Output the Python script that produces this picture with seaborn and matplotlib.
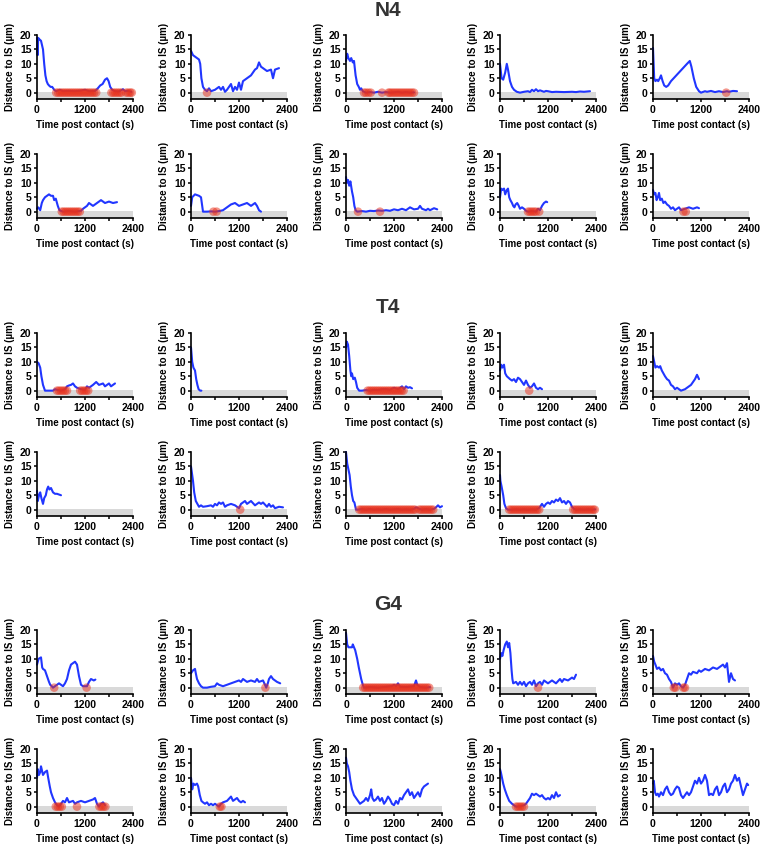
import matplotlib
matplotlib.use("Agg")
import matplotlib.pyplot as plt
import seaborn as sns
import pandas as pd

# ---------------- data ----------------
groups = ["N4", "T4", "G4"]
x_ticks = [0, 1200, 2400]
y_ticks = [0, 5, 10, 15, 20]
x_label = "Time post contact (s)"
y_label = "Distance to IS (µm)"

# N4
N4_1_t = [0, 15, 30, 60, 100, 150, 180, 210, 240, 270, 300, 340, 380, 430, 480, 570, 650, 800, 950, 1100, 1200, 1300, 1450, 1520, 1580, 1640, 1700, 1750, 1790, 1830, 1880, 1950, 2050, 2150, 2200, 2280, 2360]
N4_1_d = [19, 13, 19, 18.5, 18, 15, 10, 6, 4, 3, 2.5, 2, 2, 1, 0.5, 1, 0.5, 0.6, 0.5, 0.7, 1, 0.5, 0.6, 1.5, 2.5, 3, 4.5, 5, 4, 2, 1, 0.5, 0.4, 1.2, 0.5, 0.6, 0.3]
N4_1_red = [480, 530, 580, 630, 680, 730, 780, 830, 880, 930, 980, 1030, 1080, 1130, 1180, 1230, 1280, 1330, 1380, 1430, 1480, 1860, 1910, 1960, 2010, 2060, 2110, 2230, 2280, 2330, 2370]

N4_2_t = [0, 50, 100, 150, 200, 230, 260, 300, 350, 400, 450, 500, 600, 700, 750, 800, 850, 900, 950, 1000, 1050, 1100, 1150, 1200, 1250, 1300, 1400, 1500, 1550, 1600, 1650, 1700, 1750, 1800, 1900, 2000, 2050, 2100, 2200]
N4_2_d = [14.5, 13, 12.5, 12, 11.5, 10, 5, 2, 1, 0.5, 1.5, 0.5, 1, 2, 1, 2, 0.3, 1, 2, 3, 0.5, 2, 1, 3.5, 1, 4, 5, 6, 7, 8, 8.5, 10.5, 9, 8.5, 7.5, 8, 5, 8, 8.5]
N4_2_red = [400]

N4_3_t = [0, 30, 60, 100, 130, 170, 200, 240, 280, 320, 350, 380, 420, 500, 600, 700, 800, 900, 1000, 1100, 1200, 1300, 1400, 1500, 1600, 1700]
N4_3_d = [11, 13.5, 12, 11, 12, 10.5, 11, 6, 3, 2, 1, 1.5, 0.5, 0, 0.2, 0, 0.3, 0, 0.2, 0, 0.1, 0.3, 0, 0.2, 0, 0.1]
N4_3_red = [450, 500, 560, 620, 900, 1060, 1100, 1150, 1200, 1250, 1300, 1350, 1400, 1450, 1500, 1550, 1600, 1650, 1700]

N4_4_t = [0, 40, 80, 130, 170, 200, 250, 300, 350, 420, 500, 600, 700, 750, 800, 850, 900, 950, 1000, 1100, 1150, 1200, 1300, 1400, 1600, 1800, 1900, 2000, 2100, 2250]
N4_4_d = [10, 5, 4.5, 7, 10, 8, 4, 2, 1, 0.3, 0, 0.3, 0.5, 0.2, 1, 0.5, 1.2, 0.5, 0.8, 0.3, 0.6, 0.5, 0.2, 0.3, 0.2, 0.3, 0.2, 0.4, 0.3, 0.5]
N4_4_red = []

N4_5_t = [0, 30, 60, 100, 130, 170, 200, 240, 280, 330, 380, 450, 550, 650, 750, 850, 920, 960, 1020, 1080, 1150, 1200, 1300, 1350, 1450, 1550, 1650, 1750, 1850, 1900, 2000, 2100]
N4_5_d = [15.5, 5, 4, 4.5, 4, 5, 6, 4, 2.5, 2, 2.5, 4, 5.5, 7, 8.5, 10, 11, 9, 5, 2, 0.5, 0, 0.5, 0.3, 0.6, 0.2, 0.5, 0.2, 0.5, 0.3, 0.6, 0.5]
N4_5_red = [1830]

N4_6_t = [0, 30, 80, 120, 150, 200, 250, 300, 350, 400, 430, 470, 520, 560, 650, 800, 950, 1100, 1150, 1200, 1250, 1300, 1400, 1500, 1600, 1700, 1800, 1900, 2000]
N4_6_d = [1, 1.5, 0.5, 3, 4, 5, 5.5, 6, 5.5, 5.5, 4, 4.5, 2, 0.5, 0, 0.2, 0, 0.3, 1, 1.5, 2, 3, 2, 3, 4, 3, 3.5, 3, 3.3]
N4_6_red = [620, 670, 720, 770, 820, 870, 920, 970, 1020, 1070]

N4_7_t = [0, 30, 100, 200, 250, 280, 300, 400, 500, 600, 700, 800, 850, 950, 1000, 1100, 1200, 1300, 1400, 1500, 1550, 1600, 1650, 1700, 1750]
N4_7_d = [2, 5, 6, 5.5, 5, 2, 0, 0, 0.1, 0, 0.2, 0.5, 1, 2, 2.5, 3, 2, 2.5, 3, 2, 2.5, 3, 2, 0.5, 0]
N4_7_red = [560, 640]

N4_8_t = [0, 20, 50, 80, 110, 150, 180, 210, 240, 280, 400, 500, 600, 700, 800, 900, 1000, 1100, 1200, 1300, 1400, 1500, 1600, 1700, 1800, 1850, 1900, 2000, 2050, 2100, 2200, 2280]
N4_8_d = [12, 10, 11, 9, 10.5, 7, 5, 2, 0.5, 0, 0.2, 0, 0.3, 0.2, 0.4, 0.3, 0.5, 0.3, 0.8, 0.5, 1, 0.5, 1.5, 0.8, 1, 2, 1, 0.5, 1, 0.5, 1.2, 0.8]
N4_8_red = [300, 850]

N4_9_t = [0, 30, 60, 100, 130, 170, 200, 230, 260, 300, 330, 360, 390, 430, 470, 500, 550, 600, 650, 700, 800, 900, 950, 1000, 1050, 1100, 1150, 1180]
N4_9_d = [5, 8, 7.5, 8, 6, 7.5, 8, 5, 4, 3, 2, 1.5, 2.5, 3, 2, 1, 1.5, 1, 0.3, 0, 0.2, 0, 1, 0.5, 2, 3, 3.5, 3.3]
N4_9_red = [700, 750, 800, 850, 900, 980]

N4_10_t = [0, 30, 60, 90, 120, 150, 180, 220, 260, 300, 350, 400, 450, 500, 550, 600, 650, 700, 800, 900, 1000, 1100, 1150]
N4_10_d = [7.5, 6, 6.5, 4, 5, 6.5, 4, 4.5, 3, 3.5, 2.5, 2, 1, 1.5, 0.5, 1, 1.5, 0.5, 1, 1.5, 1, 1.5, 1.2]
N4_10_red = [760, 820]

# T4
T4_1_t = [0, 40, 80, 110, 150, 200, 300, 400, 450, 500, 600, 700, 750, 800, 850, 900, 950, 1000, 1100, 1200, 1250, 1300, 1400, 1480, 1550, 1650, 1700, 1800, 1850, 1950]
T4_1_d = [10, 9.5, 8, 5, 2, 0, 0, 0, 0.5, 0.3, 0, 0.5, 1.5, 1.8, 2, 2.5, 1.5, 1, 0.5, 0.3, 1.5, 1, 2, 3, 2, 2.5, 1.5, 2.5, 1.5, 2.5]
T4_1_red = [500, 550, 600, 650, 700, 750, 1080, 1130, 1180, 1230, 1280]

T4_2_t = [0, 30, 60, 100, 130, 160, 190, 230, 260]
T4_2_d = [15, 10, 8, 7, 4, 2, 0.5, 0, 0]
T4_2_red = []

T4_3_t = [0, 20, 50, 80, 110, 130, 150, 180, 220, 250, 280, 330, 400, 500, 600, 700, 800, 900, 1000, 1100, 1200, 1300, 1400, 1450, 1500, 1550, 1600, 1650]
T4_3_d = [15, 17, 16, 12, 7, 5, 6, 4, 4.5, 3, 1, 0, 0, 0.2, 0, 0.3, 0.2, 0.5, 0.5, 0.3, 1, 0.5, 1.5, 0.5, 1.5, 1, 1.2, 0.8]
T4_3_red = [540, 590, 640, 690, 740, 790, 840, 890, 940, 990, 1040, 1090, 1140, 1190, 1240, 1290, 1340, 1390, 1440]

T4_4_t = [0, 30, 60, 100, 130, 170, 250, 300, 350, 400, 450, 500, 550, 600, 650, 700, 750, 800, 850, 900, 950, 1000, 1050]
T4_4_d = [7, 9, 8, 9, 6, 5, 4, 3.5, 4, 3, 4.5, 4, 3, 2, 3.5, 2, 1, 1.5, 2.5, 1, 0.5, 1, 0.5]
T4_4_red = [730]

T4_5_t = [0, 30, 60, 100, 150, 180, 220, 260, 300, 350, 400, 450, 500, 550, 600, 650, 700, 800, 850, 900, 950, 1000, 1050, 1100, 1150]
T4_5_d = [12, 10, 8, 8.5, 8, 8.5, 7, 6, 5, 4, 3.5, 2, 1.5, 0.5, 1, 0.5, 0, 0.5, 1, 1.5, 2, 3, 4, 5.5, 4]
T4_5_red = []

T4_6_t = [0, 20, 50, 80, 110, 150, 180, 220, 250, 280, 310, 350, 400, 450, 500, 600]
T4_6_d = [6.5, 3, 5, 6, 4, 2, 4, 5, 7, 8, 7, 7.5, 6, 5.5, 5.5, 5]
T4_6_red = []

T4_7_t = [0, 20, 50, 80, 120, 160, 200, 250, 300, 400, 500, 550, 600, 650, 700, 750, 800, 850, 900, 1000, 1100, 1200, 1250, 1300, 1350, 1400, 1450, 1500, 1600, 1700, 1750, 1800, 1900, 1950, 2000, 2050, 2100, 2200, 2300]
T4_7_d = [15, 13, 10, 6, 3, 2, 1, 1.5, 1, 1.2, 1.5, 1, 2, 1.5, 2.5, 2, 2.5, 1, 1.5, 2, 1.5, 0.5, 2, 2.5, 3, 2, 2.5, 3, 1.5, 2.5, 2, 2.5, 1, 2, 1, 1.5, 0.5, 1, 0.8]
T4_7_red = [1230]

T4_8_t = [0, 30, 60, 90, 120, 150, 180, 210, 250, 300, 400, 500, 600, 700, 800, 900, 1000, 1100, 1200, 1300, 1400, 1500, 1600, 1700, 1750, 1800, 1850, 1900, 2000, 2100, 2200, 2250, 2300, 2350, 2400]
T4_8_d = [20, 16, 14, 12, 8, 5, 3, 2.5, 0, 0, 0.2, 0, 0.2, 0, 0.1, 0, 0.2, 0, 0.1, 0.2, 0, 0.1, 0, 0.3, 0.8, 0.5, 0.2, 0, 0.2, 0, 0.3, 0.8, 1.5, 0.8, 1.2]
T4_8_red = [330, 380, 430, 480, 530, 580, 630, 680, 730, 780, 830, 880, 930, 980, 1030, 1080, 1130, 1180, 1230, 1280, 1330, 1380, 1430, 1480, 1530, 1580, 1630, 1680, 1730, 1830, 1880, 1930, 1980, 2030, 2080, 2130, 2180]

T4_9_t = [0, 10, 40, 80, 110, 150, 200, 300, 400, 500, 600, 700, 800, 900, 970, 1000, 1050, 1100, 1150, 1200, 1250, 1300, 1350, 1400, 1450, 1500, 1550, 1600, 1650, 1700, 1750, 1800, 1850, 1900, 2000, 2100, 2200, 2300, 2380]
T4_9_d = [12, 10, 8, 5, 2, 0.5, 0, 0, 0.1, 0, 0.1, 0, 0.1, 0, 0.5, 1, 2, 1, 2, 2.5, 2, 3, 2.5, 3.5, 3, 4, 2.5, 3, 2, 3, 2.5, 1, 0.3, 0, 0.1, 0, 0.1, 0, 0.1]
T4_9_red = [230, 280, 330, 380, 430, 480, 530, 580, 630, 680, 730, 780, 830, 880, 930, 980, 1830, 1880, 1930, 1980, 2030, 2080, 2130, 2180, 2230, 2280, 2330, 2370]

# G4
G4_1_t = [0, 20, 40, 100, 130, 150, 200, 250, 300, 330, 370, 400, 450, 500, 550, 600, 650, 700, 750, 800, 850, 950, 1000, 1050, 1100, 1150, 1250, 1300, 1350, 1420, 1460]
G4_1_d = [8, 9, 10, 10.5, 7, 6.5, 6, 4, 2, 1, 0.5, 0, 0.5, 1, 1.5, 1, 0.5, 1.5, 3, 6, 8, 9, 8, 4, 1, 0.5, 0.5, 2, 3, 2.5, 2.8]
G4_1_red = [430, 1240]

G4_2_t = [0, 50, 100, 120, 150, 200, 250, 300, 400, 500, 600, 650, 700, 800, 900, 1000, 1100, 1200, 1250, 1300, 1400, 1500, 1600, 1650, 1700, 1800, 1850, 1880, 1920, 1950, 2000, 2050, 2100, 2150, 2230]
G4_2_d = [5, 6, 6.5, 5, 3, 1.5, 0.5, 0, 0, 0.3, 0.5, 1.5, 1, 0.5, 1, 1.5, 2, 2.5, 2, 3, 2, 2.5, 2, 3, 2, 2.5, 1, 0, 1.5, 3, 4, 3, 2.5, 2, 1.5]
G4_2_red = [1860]

G4_3_t = [0, 30, 60, 150, 170, 200, 230, 280, 320, 350, 380, 420, 450, 600, 800, 1000, 1150, 1200, 1250, 1300, 1350, 1500, 1700, 1750, 1780, 1850, 2000, 2100]
G4_3_d = [19, 15, 14, 14, 15, 14, 13, 10, 7, 5, 3, 1, 0, 0.2, 0, 0.3, 0.5, 1, 0.5, 1.5, 0.3, 0.2, 0.5, 2.5, 1, 0.2, 0, 0.2]
G4_3_red = [430, 480, 530, 580, 630, 680, 730, 780, 830, 880, 930, 980, 1030, 1080, 1130, 1180, 1230, 1280, 1330, 1380, 1430, 1480, 1530, 1580, 1630, 1680, 1730, 1780, 1830, 1880, 1930, 1980, 2030, 2080]

G4_4_t = [0, 30, 60, 90, 130, 170, 200, 230, 260, 290, 310, 330, 400, 450, 500, 550, 600, 650, 700, 750, 800, 850, 900, 950, 1000, 1050, 1100, 1200, 1300, 1400, 1500, 1550, 1600, 1700, 1800, 1850, 1900]
G4_4_d = [10, 12, 11, 13, 15, 16, 14, 15.5, 12, 6, 3, 1.5, 2, 1, 2, 1, 2, 0.5, 1.5, 2, 1, 2.5, 0.5, 1.5, 2, 1, 2.5, 1.5, 2.5, 1.5, 3, 2, 3, 2.5, 3.5, 3, 4.5]
G4_4_red = [950]

G4_5_t = [0, 30, 60, 100, 150, 200, 250, 300, 350, 400, 450, 500, 550, 600, 650, 700, 750, 800, 850, 900, 950, 1000, 1100, 1150, 1200, 1300, 1400, 1500, 1600, 1700, 1750, 1800, 1850, 1900, 1950, 2000, 2050]
G4_5_d = [11, 9, 8, 6.5, 7, 6, 6.5, 5, 4.5, 3, 2, 0, 1.5, 1, 1.5, 0.5, 0, 1, 3, 5, 4.5, 5.5, 5, 6, 5.5, 6.5, 6, 7, 6.5, 7.5, 8, 7, 8.5, 2, 5, 3, 2.5]
G4_5_red = [520, 560, 760, 800]

G4_6_t = [0, 20, 50, 80, 100, 150, 200, 250, 280, 320, 350, 400, 450, 500, 550, 600, 650, 700, 750, 800, 900, 950, 1000, 1100, 1200, 1300, 1400, 1450, 1500, 1550, 1600, 1650, 1700]
G4_6_d = [10, 13, 11, 12, 14, 11, 12, 12.5, 10, 7, 5, 3, 1.5, 0.5, 0, 1, 2, 1.5, 3, 1.5, 2, 1, 1.5, 2, 1.5, 2, 2.5, 3, 1, 0, 1, 1.5, 0.5]
G4_6_red = [470, 520, 570, 620, 1000, 1560, 1610, 1660, 1710]

G4_7_t = [0, 30, 60, 100, 150, 180, 220, 260, 300, 350, 400, 450, 500, 550, 600, 650, 700, 750, 800, 900, 1000, 1050, 1100, 1150, 1200, 1250, 1300, 1350]
G4_7_d = [10, 6, 8, 7.5, 8, 7, 4, 2, 1.5, 1, 1.5, 0.5, 1, 0.5, 1, 0.5, 0, 1, 1.5, 2, 3.5, 2, 2.5, 3, 2, 1.5, 2, 1.5]
G4_7_red = [720, 760]

G4_8_t = [0, 20, 50, 80, 110, 150, 200, 250, 300, 350, 400, 450, 500, 550, 600, 630, 660, 700, 750, 800, 850, 900, 950, 1000, 1050, 1100, 1150, 1200, 1250, 1300, 1350, 1400, 1450, 1500, 1550, 1600, 1650, 1700, 1750, 1800, 1850, 1900, 1950, 2050]
G4_8_d = [17, 15, 14, 12, 9, 6, 4, 3, 2, 1, 1.5, 2, 3, 2, 4, 6, 3, 2, 2.5, 3.5, 2, 3, 1, 2, 3.5, 2.5, 1, 0.5, 2, 1, 3, 2.5, 4, 5, 6, 4, 5, 3, 4, 5, 3.5, 6, 7, 8]
G4_8_red = []

G4_9_t = [0, 20, 50, 80, 120, 170, 230, 300, 350, 400, 500, 600, 650, 700, 750, 800, 850, 900, 950, 1000, 1050, 1100, 1150, 1200, 1250, 1300, 1350, 1400, 1450, 1500]
G4_9_d = [13, 12, 10, 8, 6, 4, 2, 1, 0.5, 0, 0.1, 0.5, 1, 2, 3, 4.5, 4, 4.5, 4, 3.5, 4, 3, 2.5, 3, 2.5, 4, 3, 5, 3.5, 4]
G4_9_red = [400, 450, 500, 550, 600]

G4_10_t = [0, 20, 50, 80, 120, 150, 200, 250, 300, 350, 400, 450, 500, 550, 600, 650, 700, 750, 800, 850, 900, 950, 1000, 1050, 1100, 1150, 1200, 1250, 1300, 1350, 1400, 1450, 1500, 1550, 1600, 1650, 1700, 1750, 1800, 1850, 1900, 1950, 2000, 2050, 2100, 2150, 2200, 2250, 2300, 2350, 2380]
G4_10_d = [8, 9, 5, 4, 4.5, 3.5, 5, 4, 6, 7, 5, 4, 4.5, 6, 7, 6.5, 4, 3, 4, 5, 4, 5, 7, 9, 8, 10, 8, 9, 11, 9, 4, 4.5, 4, 6, 7, 4, 5, 7, 8, 5, 6, 8, 9, 11, 9, 10, 7, 4, 6, 8, 7.5]
G4_10_red = []

panels = {
    "N4": [(N4_1_t, N4_1_d, N4_1_red), (N4_2_t, N4_2_d, N4_2_red), (N4_3_t, N4_3_d, N4_3_red),
           (N4_4_t, N4_4_d, N4_4_red), (N4_5_t, N4_5_d, N4_5_red), (N4_6_t, N4_6_d, N4_6_red),
           (N4_7_t, N4_7_d, N4_7_red), (N4_8_t, N4_8_d, N4_8_red), (N4_9_t, N4_9_d, N4_9_red),
           (N4_10_t, N4_10_d, N4_10_red)],
    "T4": [(T4_1_t, T4_1_d, T4_1_red), (T4_2_t, T4_2_d, T4_2_red), (T4_3_t, T4_3_d, T4_3_red),
           (T4_4_t, T4_4_d, T4_4_red), (T4_5_t, T4_5_d, T4_5_red), (T4_6_t, T4_6_d, T4_6_red),
           (T4_7_t, T4_7_d, T4_7_red), (T4_8_t, T4_8_d, T4_8_red), (T4_9_t, T4_9_d, T4_9_red)],
    "G4": [(G4_1_t, G4_1_d, G4_1_red), (G4_2_t, G4_2_d, G4_2_red), (G4_3_t, G4_3_d, G4_3_red),
           (G4_4_t, G4_4_d, G4_4_red), (G4_5_t, G4_5_d, G4_5_red), (G4_6_t, G4_6_d, G4_6_red),
           (G4_7_t, G4_7_d, G4_7_red), (G4_8_t, G4_8_d, G4_8_red), (G4_9_t, G4_9_d, G4_9_red),
           (G4_10_t, G4_10_d, G4_10_red)],
}

# ---------------- style ----------------
sns.set_theme(style="ticks")
plt.rcParams["font.family"] = ["Liberation Sans", "DejaVu Sans"]
plt.rcParams["font.weight"] = "bold"
plt.rcParams["axes.labelweight"] = "bold"
for k in ["text.color", "axes.labelcolor", "xtick.color", "ytick.color", "axes.edgecolor"]:
    plt.rcParams[k] = "black"

W, H = 763, 847
fig = plt.figure(figsize=(W / 100, H / 100), dpi=100)

col_left = [37, 191, 346, 500, 653]
ax_w, ax_h = 96, 64
group_tops = {"N4": (35, 154), "T4": (333, 452), "G4": (630, 749)}
title_base = {"N4": 16, "T4": 313, "G4": 610}

BLUE = "#2136ff"
RED = "#e8311c"


def draw_panel(left, top, t, d, red):
    ax = fig.add_axes([left / W, 1 - (top + ax_h) / H, ax_w / W, ax_h / H])
    ax.axhspan(-2.2, 0.3, color="#d9d9d9", lw=0, zorder=0)
    df = pd.DataFrame({"t": t, "d": d})
    sns.lineplot(data=df, x="t", y="d", ax=ax, color=BLUE, lw=1.5,
                 estimator=None, sort=False, zorder=2, clip_on=False)
    if red:
        rdf = pd.DataFrame({"t": red, "d": [0] * len(red)})
        sns.scatterplot(data=rdf, x="t", y="d", ax=ax, color=RED, alpha=0.5,
                        s=38, edgecolor="none", linewidth=0, zorder=3, clip_on=False)
    ax.set_xlim(0, 2400)
    ax.set_ylim(-2.2, 20)
    ax.set_xticks(x_ticks)
    ax.set_xticks([600, 1800], minor=True)
    ax.set_yticks(y_ticks)
    ax.set_xticklabels([str(v) for v in x_ticks])
    ax.set_yticklabels([str(v) for v in y_ticks])
    ax.tick_params(which="both", direction="out", length=2.5, width=1.1,
                   labelsize=7.5, pad=1.5, color="black")
    for s in ["top", "right"]:
        ax.spines[s].set_visible(False)
    for s in ["left", "bottom"]:
        ax.spines[s].set_linewidth(1.2)
        ax.spines[s].set_color("black")
    ax.set_xlabel(x_label, fontsize=7, fontweight="bold")
    ax.set_ylabel(y_label, fontsize=7, fontweight="bold")
    ax.xaxis.set_label_coords(0.5, -0.33)
    ax.yaxis.set_label_coords(-0.23, 0.5)
    ax.set_facecolor("none")
    return ax


for g in groups:
    tops = group_tops[g]
    for i, (t, d, red) in enumerate(panels[g]):
        r, c = divmod(i, 5)
        draw_panel(col_left[c], tops[r], t, d, red)
    fig.text(388 / W, 1 - title_base[g] / H, g, ha="center", va="baseline",
             fontsize=15, fontweight="bold", color="#333333")

fig.savefig("out.png", dpi=100)
